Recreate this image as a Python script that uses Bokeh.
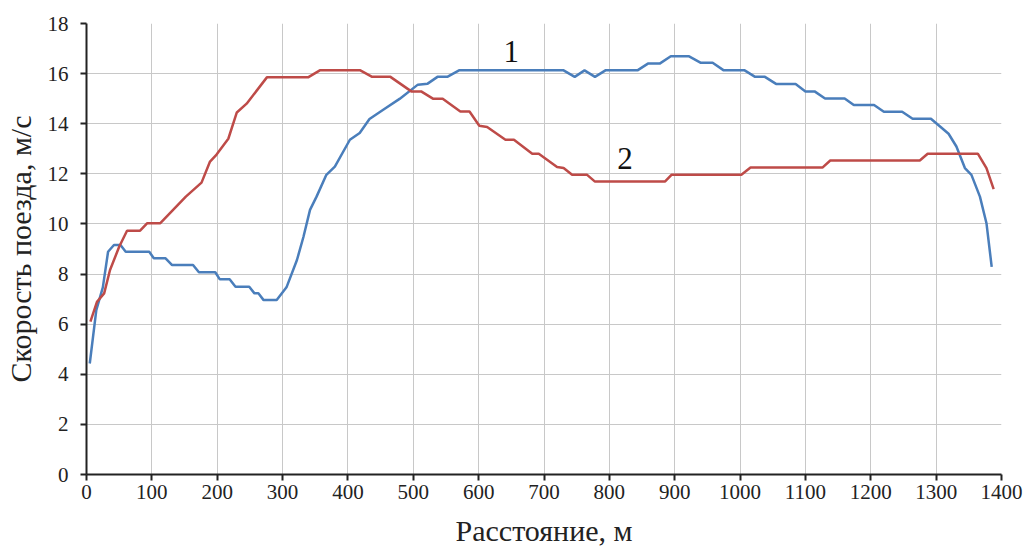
from bokeh.plotting import figure
from bokeh.models import Range1d, FixedTicker
from bokeh.core.properties import value
from bokeh.embed import file_html
from bokeh.resources import INLINE

# Curve 1 (blue)
dist_1 = [5, 15, 25, 33, 42, 52, 60, 96, 103, 121, 131, 163, 172, 197, 204, 219, 228, 249, 257, 263,
          271, 291, 306, 322, 332, 342, 352, 367, 380, 403, 418, 433, 454, 479, 507, 522, 537, 552, 570, 730,
          747, 762, 778, 794, 843, 859, 877, 894, 922, 940, 958, 975, 1007, 1023, 1038, 1055, 1085, 1100, 1114, 1130,
          1160, 1174, 1205, 1220, 1248, 1264, 1292, 1306, 1319, 1331, 1344, 1354, 1367, 1377, 1385]
speed_1 = [4.43, 6.56, 7.47, 8.89, 9.16, 9.16, 8.89, 8.89, 8.63, 8.63, 8.36, 8.36, 8.07, 8.07, 7.79, 7.79, 7.49, 7.49, 7.23, 7.23,
           6.96, 6.96, 7.47, 8.56, 9.49, 10.56, 11.09, 11.96, 12.29, 13.36, 13.63, 14.19, 14.56, 14.99, 15.56, 15.6, 15.87, 15.87, 16.13, 16.13,
           15.87, 16.13, 15.87, 16.13, 16.13, 16.4, 16.4, 16.69, 16.69, 16.43, 16.43, 16.13, 16.13, 15.87, 15.87, 15.59, 15.59, 15.29, 15.29, 15.01,
           15.01, 14.75, 14.75, 14.48, 14.48, 14.2, 14.2, 13.89, 13.6, 13.09, 12.23, 11.96, 11.09, 10.03, 8.29]

# Curve 2 (red)
dist_2 = [6, 16, 27, 36, 50, 62, 82, 93, 113, 152, 176, 189, 199, 217, 230, 245, 276, 339, 357, 419,
          437, 465, 497, 512, 530, 545, 572, 586, 601, 613, 641, 654, 682, 692, 720, 730, 743, 766, 778, 885,
          895, 1002, 1016, 1126, 1138, 1275, 1287, 1364, 1377, 1388]
speed_2 = [6.1, 6.89, 7.23, 8.16, 9.09, 9.73, 9.73, 10.03, 10.03, 11.09, 11.65, 12.49, 12.77, 13.4, 14.45, 14.8, 15.85, 15.85, 16.13, 16.13,
           15.87, 15.87, 15.29, 15.29, 15.0, 15.0, 14.49, 14.49, 13.92, 13.87, 13.36, 13.36, 12.8, 12.8, 12.27, 12.23, 11.96, 11.96, 11.69, 11.69,
           11.96, 11.96, 12.25, 12.25, 12.53, 12.53, 12.8, 12.8, 12.23, 11.39]

x_ticks = list(range(0, 1401, 100))
y_ticks = list(range(0, 19, 2))

curve_labels = ["1", "2"]
label_x = [650, 824]
label_y = [16.9, 12.6]

FONT = "Liberation Serif"

p = figure(width=1030, height=551, output_backend="svg", toolbar_location=None,
           x_range=Range1d(0, 1400), y_range=Range1d(0, 18),
           min_border_left=86, min_border_right=29, min_border_top=23, min_border_bottom=77)
p.outline_line_color = None
p.background_fill_color = "white"

for ax, ticks in ((p.xaxis, x_ticks), (p.yaxis, y_ticks)):
    ax.ticker = FixedTicker(ticks=ticks)
    ax.axis_line_color = "#222222"
    ax.axis_line_width = 2
    ax.major_tick_line_color = "#222222"
    ax.major_tick_line_width = 2
    ax.major_tick_in = 0
    ax.major_tick_out = 6
    ax.minor_tick_line_color = None
    ax.major_label_text_font = FONT
    ax.major_label_text_font_size = "21px"
    ax.major_label_text_color = "#222222"
    ax.axis_label_text_font = FONT
    ax.axis_label_text_font_size = "30px"
    ax.axis_label_text_font_style = "normal"
    ax.axis_label_text_color = "#222222"

p.xaxis.axis_label = "Расстояние, м"
p.yaxis.axis_label = "Скорость поезда, м/с"
p.xaxis.major_label_standoff = 4
p.yaxis.major_label_standoff = 12
p.xaxis.axis_label_standoff = 12
p.yaxis.axis_label_standoff = 8

p.xgrid.ticker = FixedTicker(ticks=x_ticks)
p.ygrid.ticker = FixedTicker(ticks=y_ticks)
p.grid.grid_line_color = "#c8c8c8"
p.grid.grid_line_width = 1

p.line(dist_1, speed_1, line_color="#4A7EBB", line_width=2.5)
p.line(dist_2, speed_2, line_color="#BE4B48", line_width=2.5)

p.text(x=label_x, y=label_y, text=curve_labels, text_font=value(FONT), text_font_size="31px",
       text_align="center", text_baseline="middle", text_color="#111111")

open("out.html", "w").write(file_html(p, INLINE))
